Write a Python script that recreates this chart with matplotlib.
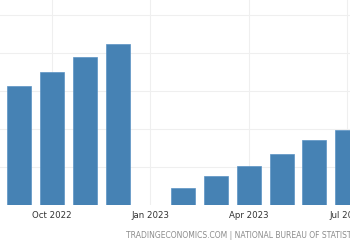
import matplotlib
matplotlib.use("Agg")
import matplotlib.pyplot as plt
import pandas as pd

# Data
months = ["2022-09", "2022-10", "2022-11", "2022-12",
          "2023-02", "2023-03", "2023-04", "2023-05", "2023-06", "2023-07"]
values = [3.13, 3.50, 3.89, 4.24, 0.45, 0.76, 1.03, 1.34, 1.71, 1.97]
tick_months = ["2022-10", "2023-01", "2023-04", "2023-07"]
tick_labels = ["Oct 2022", "Jan 2023", "Apr 2023", "Jul 2023"]
source_text = "TRADINGECONOMICS.COM | NATIONAL BUREAU OF STATISTICS OF CHINA"

base = pd.Period("2022-09", freq="M")
def idx(m):
    return (pd.Period(m, freq="M") - base).n

x = [idx(m) for m in months]
tx = [idx(m) for m in tick_months]

fig = plt.figure(figsize=(3.5, 2.5), dpi=100)
ax = fig.add_axes([0, 0.18, 1, 0.82])
ax.set_xlim(-0.585, 10.085)
ax.set_ylim(0, 5.395)

ax.bar(x, values, width=0.73, color="#4682b4", edgecolor="#5b93c4",
       linewidth=0.5, zorder=3)

ax.set_yticks([1, 2, 3, 4, 5])
ax.set_xticks(tx)
ax.set_xticklabels(tick_labels, fontsize=6.2, color="#333333")
ax.tick_params(axis="x", length=0, pad=4)
ax.tick_params(axis="y", length=0, labelleft=False)
ax.grid(True, color="#efefef", linewidth=0.8, zorder=0)
for s in ax.spines.values():
    s.set_visible(False)

fig.text(126 / 350, 1 - 236 / 250, source_text, fontsize=5.5, color="#8c8c8c",
         ha="left", va="center")

fig.savefig("out.png", dpi=100)
